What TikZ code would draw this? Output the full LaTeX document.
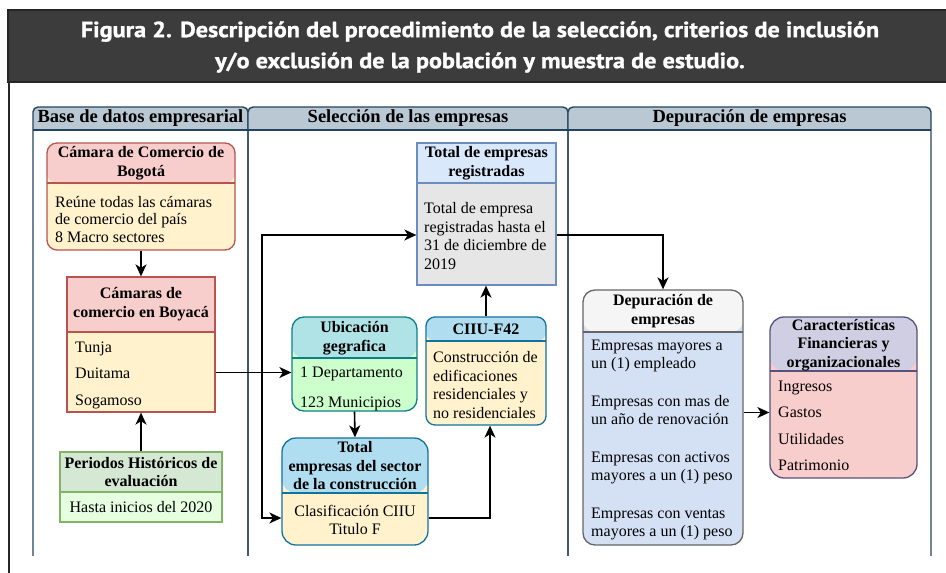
\documentclass[tikz,border=0pt]{standalone}
\usepackage{fontspec}
\setmainfont{Liberation Serif}
\newfontfamily\titlefont[FakeStretch=1.1,FakeBold=1.2]{PT Sans}
\usetikzlibrary{arrows.meta,positioning}

\definecolor{bandbg}{HTML}{3C3C3C}
\definecolor{lanehead}{HTML}{BAC8D3}
\definecolor{laneline}{HTML}{23445D}
\definecolor{redhd}{HTML}{F8CECC}
\definecolor{redln}{HTML}{B85450}
\definecolor{yelbd}{HTML}{FFF2CC}
\definecolor{grnhd}{HTML}{D5E8D4}
\definecolor{grnln}{HTML}{82B366}
\definecolor{grnbd}{HTML}{E6FFE0}
\definecolor{bluhd}{HTML}{DAE8FC}
\definecolor{bluln}{HTML}{6C8EBF}
\definecolor{grybd}{HTML}{E6E6E6}
\definecolor{teahd}{HTML}{B0E3E6}
\definecolor{tealn}{HTML}{0E8088}
\definecolor{limbd}{HTML}{CCFFCC}
\definecolor{skyhd}{HTML}{B1DDF0}
\definecolor{skyln}{HTML}{10739E}
\definecolor{whthd}{HTML}{F5F5F5}
\definecolor{dimln}{HTML}{666666}
\definecolor{pblbd}{HTML}{D4E1F5}
\definecolor{purhd}{HTML}{D0CEE2}
\definecolor{purln}{HTML}{56517E}

\tikzset{
  card/.style n args={4}{draw=#1, fill=#3, line width=1.3pt, inner sep=0pt,
    path picture={
      \fill[#2] (path picture bounding box.north west)
        rectangle ([yshift=-#4]path picture bounding box.north east);
      \draw[#1, line width=1.3pt] ([yshift=-#4]path picture bounding box.north west)
        -- ([yshift=-#4]path picture bounding box.north east);
    }},
  head/.style={font=\bfseries\fontsize{16}{18.5}\selectfont, align=center, inner sep=0pt},
  body/.style={font=\fontsize{16}{18.5}\selectfont, align=left, anchor=west, inner sep=0pt},
  items/.style={body, font=\fontsize{16}{26.5}\selectfont},
  flow/.style={draw=black, line width=1.6pt, -{Stealth[length=12pt,width=11pt,inset=3.5pt]}},
  lanetitle/.style={font=\bfseries\fontsize{18.5}{20}\selectfont, inner sep=0pt}
}

\begin{document}
\begin{tikzpicture}[x=1pt, y=-1pt]
  \useasboundingbox (0,0) rectangle (946,573);

  % title band
  \filldraw[fill=bandbg, draw=black!85, line width=1.2pt] (8,10) rectangle (950,82);
  \draw[black!85, line width=2.4pt] (9,82) -- (9,580);
  \node[font=\titlefont\bfseries\fontsize{22}{31}\selectfont, text=white, align=center]
    (title) at (480,47) {Figura 2. Descripción del procedimiento de la selección, criterios de inclusión\\
      y/o exclusión de la población y muestra de estudio.};

  % lanes
  \begin{scope}
    \clip (0,100) rectangle (946,555);
    \foreach \xa/\xb/\nm/\lbl in {33/248/lane1/Base de datos empresarial,
        248/568/lane2/Selección de las empresas, 568/931/lane3/Depuración de empresas} {
      \begin{scope}
        \clip (\xa,107) rectangle (\xb,130);
        \fill[lanehead, rounded corners=5pt] (\xa,107) rectangle (\xb,160);
      \end{scope}
      \draw[laneline, line width=1.4pt, rounded corners=5pt] (\xa,107) rectangle (\xb,580);
      \draw[laneline, line width=1.4pt] (\xa,130) -- (\xb,130);
      \node[lanetitle] (\nm) at ({(\xa+\xb)/2},118.5) {\lbl};
    }
  \end{scope}

  % boxes
  \node[card={redln}{redhd}{yelbd}{40pt}, rounded corners=10pt, minimum width=188pt, minimum height=107pt]
    (bogota) at (141,196.5) {};
  \node[card={redln}{redhd}{yelbd}{55pt}, minimum width=148pt, minimum height=135pt]
    (boyaca) at (141,344.5) {};
  \node[card={grnln}{grnhd}{grnbd}{40pt}, minimum width=162pt, minimum height=70pt]
    (periodos) at (141,487) {};
  \node[card={bluln}{bluhd}{grybd}{40pt}, minimum width=139pt, minimum height=142pt]
    (registradas) at (486.5,214) {};
  \node[card={tealn}{teahd}{limbd}{41pt}, rounded corners=12pt, minimum width=125pt, minimum height=94pt]
    (ubicacion) at (354.5,364) {};
  \node[card={skyln}{skyhd}{yelbd}{55pt}, rounded corners=14pt, minimum width=146pt, minimum height=107pt]
    (sector) at (355,491.5) {};
  \node[card={skyln}{skyhd}{yelbd}{24pt}, rounded corners=9pt, minimum width=120pt, minimum height=108pt]
    (ciiu) at (486,371) {};
  \node[card={dimln}{whthd}{pblbd}{42pt}, rounded corners=12pt, minimum width=160pt, minimum height=255pt]
    (depuracion) at (663,417.5) {};
  \node[card={purln}{purhd}{redhd}{54pt}, rounded corners=14pt, minimum width=147pt, minimum height=161pt]
    (caract) at (843.5,397.5) {};

  % texts
  \node[head] (bogota-h) at (141,163) {Cámara de Comercio de\\Bogotá};
  \node[body, font=\fontsize{16}{17.5}\selectfont] (bogota-b) at (55,219.5)
    {Reúne todas las cámaras\\de comercio del país\\8 Macro sectores};
  \node[head] (boyaca-h) at (141,304) {Cámaras de\\comercio en Boyacá};
  \node[items] (boyaca-b) at (75,375) {Tunja\\Duitama\\Sogamoso};
  \node[head] (periodos-h) at (141,472) {Periodos Históricos de\\evaluación};
  \node[body, anchor=center] (periodos-b) at (141,507) {Hasta inicios del 2020};
  \node[head] (registradas-h) at (486.5,163) {Total de empresas\\registradas};
  \node[body] (registradas-b) at (424,236) {Total de empresa\\registradas hasta el\\31 de diciembre de\\2019};
  \node[head] (ubicacion-h) at (354.5,338) {Ubicación\\gegrafica};
  \node[items] (ubicacion-b) at (300,389) {1 Departamento\\[3.5pt]123 Municipios};
  \node[head] (sector-h) at (355,466) {Total\\empresas del sector\\de la construcción};
  \node[body, align=center, anchor=center] (sector-b) at (355,520) {Clasificación CIIU\\Titulo F};
  \node[head] (ciiu-h) at (486,329) {CIIU-F42};
  \node[body] (ciiu-b) at (433,385) {Construcción de\\edificaciones\\residenciales y\\no residenciales};
  \node[head] (depuracion-h) at (663,311) {Depuración de\\empresas};
  \node[body] (depuracion-b) at (591,440) {Empresas mayores a\\un (1) empleado\\[19pt]
    Empresas con mas de\\un año de renovación\\[19pt]
    Empresas con activos\\mayores a un (1) peso\\[19pt]
    Empresas con ventas\\mayores a un (1) peso};
  \node[head] (caract-h) at (843.5,345) {Características\\Financieras y\\organizacionales};
  \node[items] (caract-b) at (778,426) {Ingresos\\Gastos\\Utilidades\\Patrimonio};

  % connectors
  \draw[flow] (bogota.south) -- (boyaca.north);
  \draw[flow] (periodos.north) -- (boyaca.south);
  \draw[flow] ([yshift=-28pt]boyaca.east) coordinate (split) -- (split -| ubicacion.west);
  \coordinate (bus) at (262,372.5);
  \draw[flow] (bus) |- ([yshift=-21pt]registradas.west);
  \draw[flow] (bus) |- ([yshift=-26.5pt]sector.west);
  \draw[flow] (ubicacion.south) -- (sector.north);
  \draw[flow] ([yshift=-26.5pt]sector.east) -| ([xshift=4pt]ciiu.south);
  \draw[flow] (ciiu.north) -- (ciiu.north |- registradas.south);
  \draw[flow] ([yshift=-21pt]registradas.east) -| (depuracion.north);
  \draw[flow] ([yshift=5pt]depuracion.east) -- ([yshift=5pt]depuracion.east -| caract.west);
\end{tikzpicture}
\end{document}
